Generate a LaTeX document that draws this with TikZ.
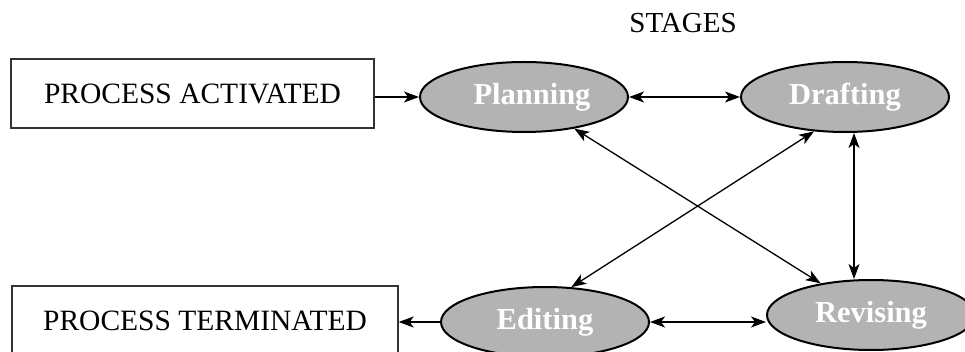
\documentclass[tikz,border=0pt]{standalone}
\usepackage{fontspec}
\setmainfont{Liberation Serif}
\usetikzlibrary{shapes.geometric,arrows.meta}
\definecolor{stagegray}{RGB}{179,179,179}
\tikzset{
  pbox/.style={draw=black!80, line width=1.3pt, minimum width=#1, minimum height=69pt, inner sep=0pt,
    font=\fontsize{29.5}{32}\selectfont},
  stage/.style={ellipse, draw=black, line width=2pt, fill=stagegray, minimum width=208pt, minimum height=70pt,
    inner sep=0pt, text=white, font=\fontsize{30.5}{33}\selectfont\bfseries},
  tip/.tip={Stealth[length=15pt,width=11pt,inset=4pt]},
  conn/.style={line width=1.3pt, -tip},
  biconn/.style={line width=1.3pt, tip-tip},
  title/.style={font=\fontsize{29}{32}\selectfont}
}
\begin{document}
\begin{tikzpicture}[x=1pt,y=-1pt]
\useasboundingbox (0,0) rectangle (965,352);
\node[title] (stages) at (683,23) {STAGES};
\node[pbox=363pt] (act) at (192.5,93.5) {PROCESS ACTIVATED};
\node[pbox=386pt] (term) at (205,320.5) {PROCESS TERMINATED};
\node[stage] (plan) at (524,97) {\hspace*{16pt}Planning};
\node[stage] (draft) at (845,97) {Drafting};
\node[stage] (edit) at (545,322) {Editing};
\node[stage] (rev) at (871,315) {Revising};
\draw[conn] (plan.west -| act.east) -- (plan.west);
\draw[biconn] (plan.east) -- (draft.west);
\draw[biconn] (plan) -- (rev);
\draw[biconn] (draft.228) -- (edit.53);
\draw[biconn] ([xshift=9pt]draft.south) -- ([xshift=9pt]draft.south |- rev.north);
\draw[biconn] (edit.east) -- (edit.east -| rev.west);
\draw[conn] (edit.west) -- (edit.west -| term.east);
\end{tikzpicture}
\end{document}
